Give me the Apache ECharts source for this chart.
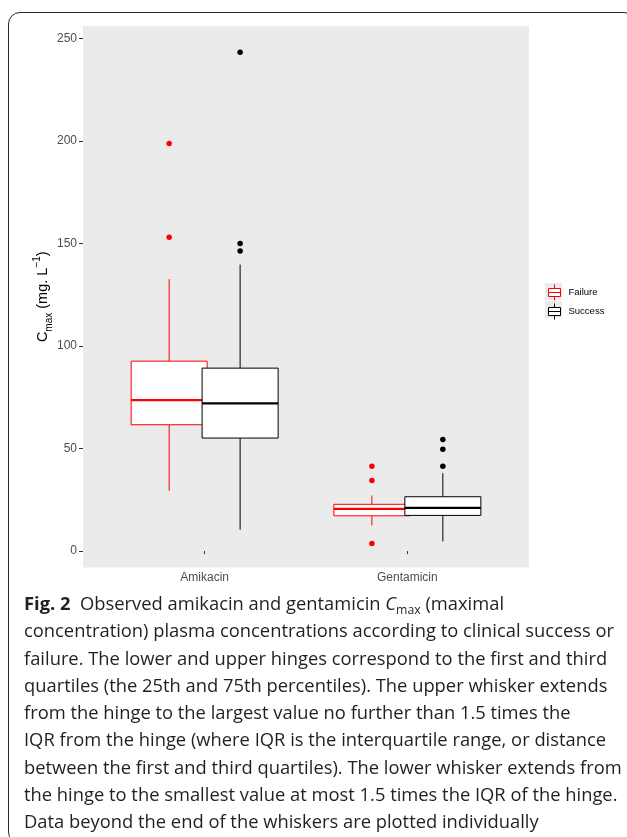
<!DOCTYPE html>
<html><head><meta charset="utf-8">
<script src="https://cdn.jsdelivr.net/npm/echarts@6/dist/echarts.min.js"></script>
<style>
html,body{margin:0;padding:0;width:627px;height:837px;overflow:hidden;background:#fff;}
#frame{position:absolute;left:8px;top:12px;width:628px;height:832px;border:1.3px solid #2a2a2a;border-radius:12px;box-sizing:border-box;}
#chart{position:absolute;left:0;top:0;width:627px;height:837px;}
#caption{position:absolute;left:24px;top:590px;font-family:'Open Sans';font-size:18px;line-height:27.3px;color:#231f20;white-space:nowrap;transform-origin:0 0;}
#caption .ln{display:block;}
#caption .ln span{display:inline-block;}
#caption sub{font-size:12px;line-height:0;vertical-align:-4px;}
#caption b{font-weight:700;}
</style></head><body>
<div id="frame"></div>
<div id="chart"></div>
<div id="caption">
<div class="ln"><span><b>Fig. 2</b>&nbsp; Observed amikacin and gentamicin <i>C</i><sub>max</sub> (maximal</span></div>
<div class="ln"><span id="refline">concentration) plasma concentrations according to clinical success or</span></div>
<div class="ln"><span>failure. The lower and upper hinges correspond to the first and third</span></div>
<div class="ln"><span>quartiles (the 25th and 75th percentiles). The upper whisker extends</span></div>
<div class="ln"><span>from the hinge to the largest value no further than 1.5 times the</span></div>
<div class="ln"><span>IQR from the hinge (where IQR is the interquartile range, or distance</span></div>
<div class="ln"><span>between the first and third quartiles). The lower whisker extends from</span></div>
<div class="ln"><span>the hinge to the smallest value at most 1.5 times the IQR of the hinge.</span></div>
<div class="ln"><span>Data beyond the end of the whiskers are plotted individually</span></div>
</div>
<script>
// ---------- data ----------
const categories = ['Amikacin', 'Gentamicin'];
const groups = ['Failure', 'Success'];
// [lower whisker, Q1, median, Q3, upper whisker] per category
const failureStats = [[29.4, 61.6, 73.6, 92.6, 132.6], [12.5, 17.2, 20.6, 22.8, 27.1]];
const successStats = [[10.4, 55.1, 72.0, 89.2, 139.7], [4.7, 17.4, 21.1, 26.5, 38.0]];
const failureOutliers = [[153.0, 198.7], [41.4, 34.4, 3.7]];
const successOutliers = [[243.2, 150.0, 146.3], [54.4, 49.7, 41.4]];
const yTicks = [0, 50, 100, 150, 200, 250];

// ---------- layout / style ----------
const groupColors = ['#FF0000', '#000000'];
const dodge = [-0.175, 0.175];
const BOX_W = 0.375;
const catPos = categories.map((c, i) => i + 1);

function boxSeries(name, stats, offset, color, z) {
  return {
    type: 'custom', name: name, z: z,
    data: stats.map((s, i) => [catPos[i]].concat(s)),
    encode: { x: 0, y: [1, 2, 3, 4, 5] },
    renderItem: function (params, api) {
      const cx = api.value(0) + offset;
      const pLow = api.coord([cx, api.value(1)]);
      const pQ1 = api.coord([cx, api.value(2)]);
      const pMed = api.coord([cx, api.value(3)]);
      const pQ3 = api.coord([cx, api.value(4)]);
      const pHigh = api.coord([cx, api.value(5)]);
      const xl = api.coord([cx - BOX_W / 2, 0])[0];
      const xr = api.coord([cx + BOX_W / 2, 0])[0];
      const x = pQ1[0];
      const ls = { stroke: color, lineWidth: 1 };
      return {
        type: 'group', children: [
          { type: 'line', shape: { x1: x, y1: pHigh[1], x2: x, y2: pQ3[1] }, style: ls },
          { type: 'line', shape: { x1: x, y1: pQ1[1], x2: x, y2: pLow[1] }, style: ls },
          { type: 'rect', shape: { x: xl, y: pQ3[1], width: xr - xl, height: pQ1[1] - pQ3[1] }, style: { fill: '#ffffff', stroke: color, lineWidth: 1 } },
          { type: 'line', shape: { x1: xl, y1: pMed[1], x2: xr, y2: pMed[1] }, style: { stroke: color, lineWidth: 2.2 } }
        ]
      };
    }
  };
}
function outlierSeries(name, outs, offset, color, z) {
  const d = [];
  outs.forEach((arr, i) => arr.forEach(v => d.push([catPos[i] + offset, v])));
  return { type: 'scatter', name: name, z: z, data: d, symbol: 'circle', symbolSize: 5.5,
    itemStyle: { color: color, opacity: 1 }, emphasis: { disabled: true } };
}

const ICON = 'path://M6,0L6,4M0,4L12,4L12,12L0,12ZM0,8L12,8M6,12L6,16';

const chart = echarts.init(document.getElementById('chart'), null, { renderer: 'canvas' });
chart.setOption({
  animation: false,
  grid: { left: 83, top: 26, width: 446, height: 541.5, show: true, backgroundColor: '#EBEBEB', borderWidth: 0 },
  xAxis: {
    type: 'value', min: 0.4, max: 2.6,
    splitLine: { show: false }, axisLine: { show: false },
    axisTick: { show: true, length: 3, lineStyle: { color: '#333333' }, customValues: catPos },
    axisLabel: { customValues: catPos, formatter: v => categories[Math.round(v) - 1], color: '#4D4D4D', fontSize: 12, fontFamily: 'Liberation Sans', margin: 4 }
  },
  yAxis: {
    type: 'value', min: -8, max: 256,
    splitLine: { show: false }, axisLine: { show: false },
    axisTick: { show: true, length: 4, lineStyle: { color: '#333333' }, customValues: yTicks },
    axisLabel: { customValues: yTicks, color: '#4D4D4D', fontSize: 12, fontFamily: 'Liberation Sans', margin: 6 },
    name: '{n|C}{s|max}{n| (mg. L}{p|\u22121}{n|)}',
    nameLocation: 'middle', nameGap: 29, nameRotate: 90, nameMoveOverlap: false,
    nameTextStyle: {
      rich: {
        n: { fontSize: 14.5, fontFamily: 'Liberation Sans', color: '#000', lineHeight: 22 },
        s: { fontSize: 10, fontFamily: 'Liberation Sans', color: '#000', verticalAlign: 'bottom', lineHeight: 22 },
        p: { fontSize: 10, fontFamily: 'Liberation Sans', color: '#000', verticalAlign: 'top', lineHeight: 22 }
      }
    }
  },
  legend: [{
    orient: 'vertical', left: 545, top: 283, padding: 0, itemGap: 1,
    itemWidth: 17, itemHeight: 17, selectedMode: false, z: 1,
    formatter: () => '', textStyle: { fontSize: 1 },
    data: groups.map(g => ({ name: g, icon: 'rect', itemStyle: { color: '#EBEBEB', borderWidth: 0 } }))
  }, {
    orient: 'vertical', left: 548, top: 284, padding: 0, itemGap: 2,
    itemWidth: 12, itemHeight: 16, selectedMode: false, z: 5,
    textStyle: { fontFamily: 'Liberation Sans', fontSize: 9.5, color: '#000', padding: [0, 0, 0, 3] },
    data: groups.map((g, i) => ({ name: g, icon: ICON, itemStyle: { color: '#ffffff', borderColor: groupColors[i], borderWidth: 1 } }))
  }],
  series: [
    boxSeries(groups[0], failureStats, dodge[0], groupColors[0], 2),
    boxSeries(groups[1], successStats, dodge[1], groupColors[1], 3),
    outlierSeries(groups[0], failureOutliers, dodge[0], groupColors[0], 4),
    outlierSeries(groups[1], successOutliers, dodge[1], groupColors[1], 4)
  ]
});

function fitCaption() {
  const cap = document.getElementById('caption');
  cap.style.transform = 'none';
  const w = document.getElementById('refline').getBoundingClientRect().width;
  const s = 590 / w;
  cap.style.transform = 'scaleX(' + s + ')';
}
fitCaption();
if (document.fonts && document.fonts.ready) document.fonts.ready.then(fitCaption);
</script>
</body></html>
